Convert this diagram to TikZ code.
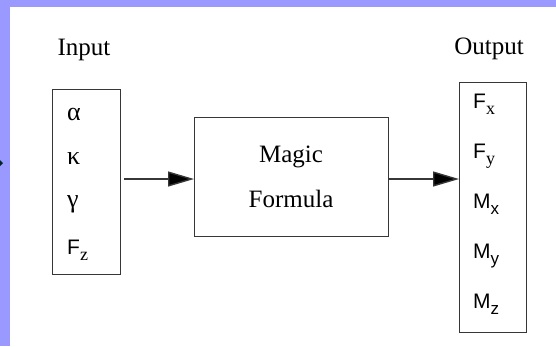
\documentclass[tikz,border=0pt]{standalone}
\usepackage{fontspec}
\setmainfont{Liberation Serif}
\newfontfamily\helv{Liberation Sans}
\usetikzlibrary{arrows.meta}
\definecolor{framecol}{RGB}{153,153,255}
\definecolor{edgecol}{RGB}{55,55,55}
\newcommand\subserif[1]{\raisebox{-6pt}{\fontsize{18}{18}\selectfont\rmfamily #1}}
\newcommand\subsans[1]{\raisebox{-6pt}{\fontsize{17}{17}\selectfont\helv #1}}
\begin{document}
\begin{tikzpicture}[x=1pt,y=-1pt,
  boxnode/.style={draw=edgecol, line width=1.4pt, fill=white, inner sep=0pt, anchor=north west},
  lbl/.style={font=\fontsize{25}{25}\selectfont, inner sep=0pt, anchor=base},
  greek/.style={font=\fontsize{26}{26}\selectfont, inner sep=0pt, anchor=base west},
  sansent/.style={font=\fontsize{21}{21}\selectfont\helv, inner sep=0pt, anchor=base west},
  arr/.style={draw=edgecol, line width=1.4pt, -{Triangle[length=26pt,width=15pt,fill=black]}}]
\useasboundingbox (0,0) rectangle (556,346);
\fill[framecol] (0,0) rectangle (556,346);
\fill[white] (10,7) rectangle (556,346);
\fill[black!70!teal] (0,160) -- (3,163) -- (0,166) -- cycle;
% labels
\node[lbl] (inlbl) at (84,55) {Input};
\node[lbl] (outlbl) at (489,54) {Output};
% boxes
\node[boxnode, minimum width=68pt, minimum height=185pt] (inbox) at (52,89) {};
\node[boxnode, minimum width=194pt, minimum height=119pt] (magic) at (194,117) {};
\node[boxnode, minimum width=67pt, minimum height=250pt] (outbox) at (459,82) {};
% magic text
\node[lbl] (m1) at (291,162) {Magic};
\node[lbl] (m2) at (291,207) {Formula};
% input entries
\node[greek] (alpha) at (67,120) {α};
\node[greek] (kappa) at (67,164) {κ};
\node[greek] (gamma) at (67,207) {γ};
\node[sansent] (fz) at (67,254) {F\subserif{z}};
% output entries
\node[sansent] (fx) at (473,108) {F\subserif{x}};
\node[sansent] (fy) at (473,158) {F\subserif{y}};
\node[sansent] (mx) at (473,208) {M\subsans{x}};
\node[sansent] (my) at (473,258) {M\subsans{y}};
\node[sansent] (mz) at (473,308) {M\subsans{z}};
% connectors
\coordinate (lvl) at (0,179);
\draw[arr] ([xshift=3pt]inbox.east |- lvl) -- (magic.west |- lvl);
\draw[arr] (magic.east |- lvl) -- (outbox.west |- lvl);
\end{tikzpicture}
\end{document}
